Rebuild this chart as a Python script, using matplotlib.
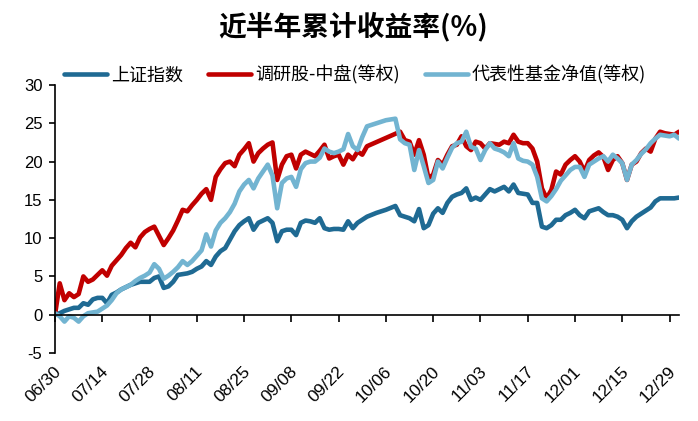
import numpy as np
import pandas as pd
import matplotlib
matplotlib.use("Agg")
import matplotlib.pyplot as plt
import matplotlib.transforms as mtransforms

plt.rcParams['font.family'] = ['Liberation Sans', 'Noto Sans CJK SC']
plt.rcParams['axes.unicode_minus'] = False

nan = np.nan

# weekday category axis, 06/30 .. 01/02
dates = pd.bdate_range("2023-06-30", "2024-01-02")

# 上证指数
sh_index = [
    0, 0.2, 0.5, 0.7, 0.9, 0.9, 1.5, 1.3, 2.0, 2.2,
    2.2, 1.5, 2.6, 2.9, 3.3, 3.6, 3.9, 4.1, 4.3, 4.3,
    4.3, 4.8, 5.0, 3.5, 3.7, 4.3, 5.2, 5.3, 5.4, 5.6,
    6.0, 6.3, 7.0, 6.5, 7.6, 8.3, 8.7, 9.8, 10.9, 11.7,
    12.2, 12.6, 11.1, 12.0, 12.3, 12.6, 12.0, 9.6, 10.9, 11.1,
    11.1, 10.4, 12.0, 12.3, 12.2, 12.0, 12.6, 11.3, 11.1, 11.2,
    11.2, 11.1, 12.2, 11.3, 12.0, 12.4, 12.8, nan, 13.3, nan,
    13.7, nan, 14.2, 13.0, 12.8, 12.6, 12.2, 13.8, 11.3, 11.7,
    13.2, 13.9, 13.3, 14.6, 15.4, 15.7, 15.9, 16.5, 15.0, 15.3,
    15.0, 15.7, 16.4, 16.1, 16.4, 16.7, 16.1, 17.0, 15.9, 15.8,
    15.7, 14.6, 14.6, 11.5, 11.3, 11.7, 12.4, 12.4, 13.0, 13.3,
    13.7, 13.0, 12.6, 13.5, 13.7, 13.9, 13.4, 13.0, 13.0, 12.8,
    12.4, 11.3, 12.2, 12.8, 13.2, 13.6, 14.0, 14.8, 15.2, 15.2,
    15.2, 15.2, 15.3,
]

# 调研股-中盘(等权)
survey_mid = [
    0, 4.1, 1.9, 2.8, 2.3, 2.7, 5.0, 4.3, 4.6, 5.2,
    5.8, 5.1, 6.4, 7.1, 7.8, 8.7, 9.4, 8.8, 10.1, 10.8,
    11.2, 11.5, 10.3, 9.1, 10.0, 11.0, 12.3, 13.7, 13.5, 14.3,
    15.0, 15.8, 16.4, 15.0, 18.0, 19.0, 19.8, 20.0, 19.4, 20.9,
    21.6, 22.4, 20.0, 21.1, 21.7, 22.2, 22.5, 17.6, 19.6, 20.7,
    20.9, 19.1, 20.9, 21.3, 21.0, 20.7, 21.4, 22.2, 20.4, 20.7,
    20.9, 19.6, 20.9, 20.3, 21.3, 20.9, 22.0, nan, nan, nan,
    nan, nan, nan, 23.9, 22.8, 22.6, 20.9, 22.8, 20.9, 17.8,
    18.3, 20.2, 19.6, 20.9, 22.0, 22.2, 23.3, 22.0, 21.5, 22.6,
    22.4, 21.7, 22.4, 22.3, 22.2, 22.6, 22.4, 23.5, 22.6, 22.4,
    22.4, 21.7, 20.0, 16.5, 15.2, 16.3, 18.7, 18.3, 19.6, 20.2,
    20.7, 20.0, 18.7, 20.2, 20.8, 21.2, 20.6, 18.9, 20.2, 20.7,
    19.8, 17.6, 19.6, 20.0, 21.1, 21.7, 21.3, 23.0, 23.9, 23.7,
    23.6, 23.5, 23.9,
]

# 代表性基金净值(等权)
fund_nav = [
    0.2, -0.2, -0.9, -0.2, -0.4, -0.9, -0.2, 0.2, 0.3, 0.4,
    0.8, 1.2, 1.9, 2.8, 3.3, 3.6, 3.9, 4.4, 4.8, 5.1,
    5.5, 6.6, 6.0, 4.7, 5.1, 5.6, 6.2, 7.0, 6.5, 7.0,
    7.7, 8.4, 10.5, 8.9, 11.0, 12.0, 12.6, 13.4, 14.5, 16.1,
    17.0, 17.6, 16.5, 17.8, 18.7, 19.6, 18.2, 13.9, 17.2, 17.8,
    18.0, 16.7, 19.0, 19.8, 20.0, 20.0, 20.5, 21.7, 21.3, 21.1,
    21.3, 21.6, 23.6, 22.0, 21.5, 23.2, 24.6, nan, 25.0, nan,
    25.4, nan, 25.6, 22.9, 22.4, 22.2, 18.9, 21.5, 19.4, 17.2,
    17.6, 20.0, 19.1, 20.5, 21.8, 22.4, 22.6, 23.9, 21.9, 21.7,
    20.2, 21.5, 22.4, 21.7, 21.5, 21.2, 20.7, 22.4, 20.4, 20.1,
    20.0, 19.6, 18.0, 15.2, 14.8, 15.5, 16.4, 17.5, 18.2, 18.9,
    19.3, 19.3, 18.0, 19.6, 20.0, 20.4, 20.7, 20.0, 20.9, 20.4,
    19.8, 17.6, 19.6, 20.2, 21.0, 21.6, 22.4, 23.0, 23.5, 23.4,
    23.3, 23.5, 23.0,
]

series = [
    (sh_index, "#1F6A93", "上证指数"),
    (survey_mid, "#C00000", "调研股-中盘(等权)"),
    (fund_nav, "#72B4D1", "代表性基金净值(等权)"),
]

tick_pos = np.arange(0, len(dates), 10)
tick_labels = dates[tick_pos].strftime("%m/%d")

fig = plt.figure(figsize=(6.98, 4.21), dpi=100)
ax = fig.add_axes([55/698, 1 - 353/421, 624/698, 268/421])

x = np.arange(len(dates))
for vals, color, label in series:
    v = np.array(vals, dtype=float)
    m = ~np.isnan(v)
    ax.plot(x[m], v[m], color=color, lw=3.3, label=label,
            solid_joinstyle="round", solid_capstyle="round")

ax.set_xlim(0, len(dates) - 1)
ax.set_ylim(-5, 30)
ax.set_yticks(np.arange(-5, 31, 5))

for s in ["top", "right"]:
    ax.spines[s].set_visible(False)
ax.spines["bottom"].set_position(("data", 0))
ax.spines["bottom"].set_linewidth(1.2)
ax.spines["left"].set_linewidth(1.2)

ax.set_xticks(tick_pos)
ax.tick_params(axis="x", direction="out", length=5, width=1.2, labelbottom=False)
ax.tick_params(axis="y", direction="out", length=4, width=1.2, labelsize=12, pad=5)

trans = mtransforms.blended_transform_factory(ax.transData, ax.transAxes)
for p, lab in zip(tick_pos, tick_labels):
    ax.text(p + 0.8, -0.06, lab, transform=trans, rotation=45,
            rotation_mode="anchor", ha="right", va="center", fontsize=12.5)

fig.legend(loc="center", bbox_to_anchor=(355/698, 1 - 75/421), ncol=3,
           frameon=False, prop={"family": ["Noto Sans CJK SC"], "size": 13},
           handlelength=2.4, handletextpad=0.2, columnspacing=1.4)

fig.text(353/698, 1 - 27/421, "近半年累计收益率(%)", ha="center", va="center",
         fontsize=20, fontweight="bold", family=["Noto Sans CJK SC"])

fig.savefig("out.png", dpi=100)
